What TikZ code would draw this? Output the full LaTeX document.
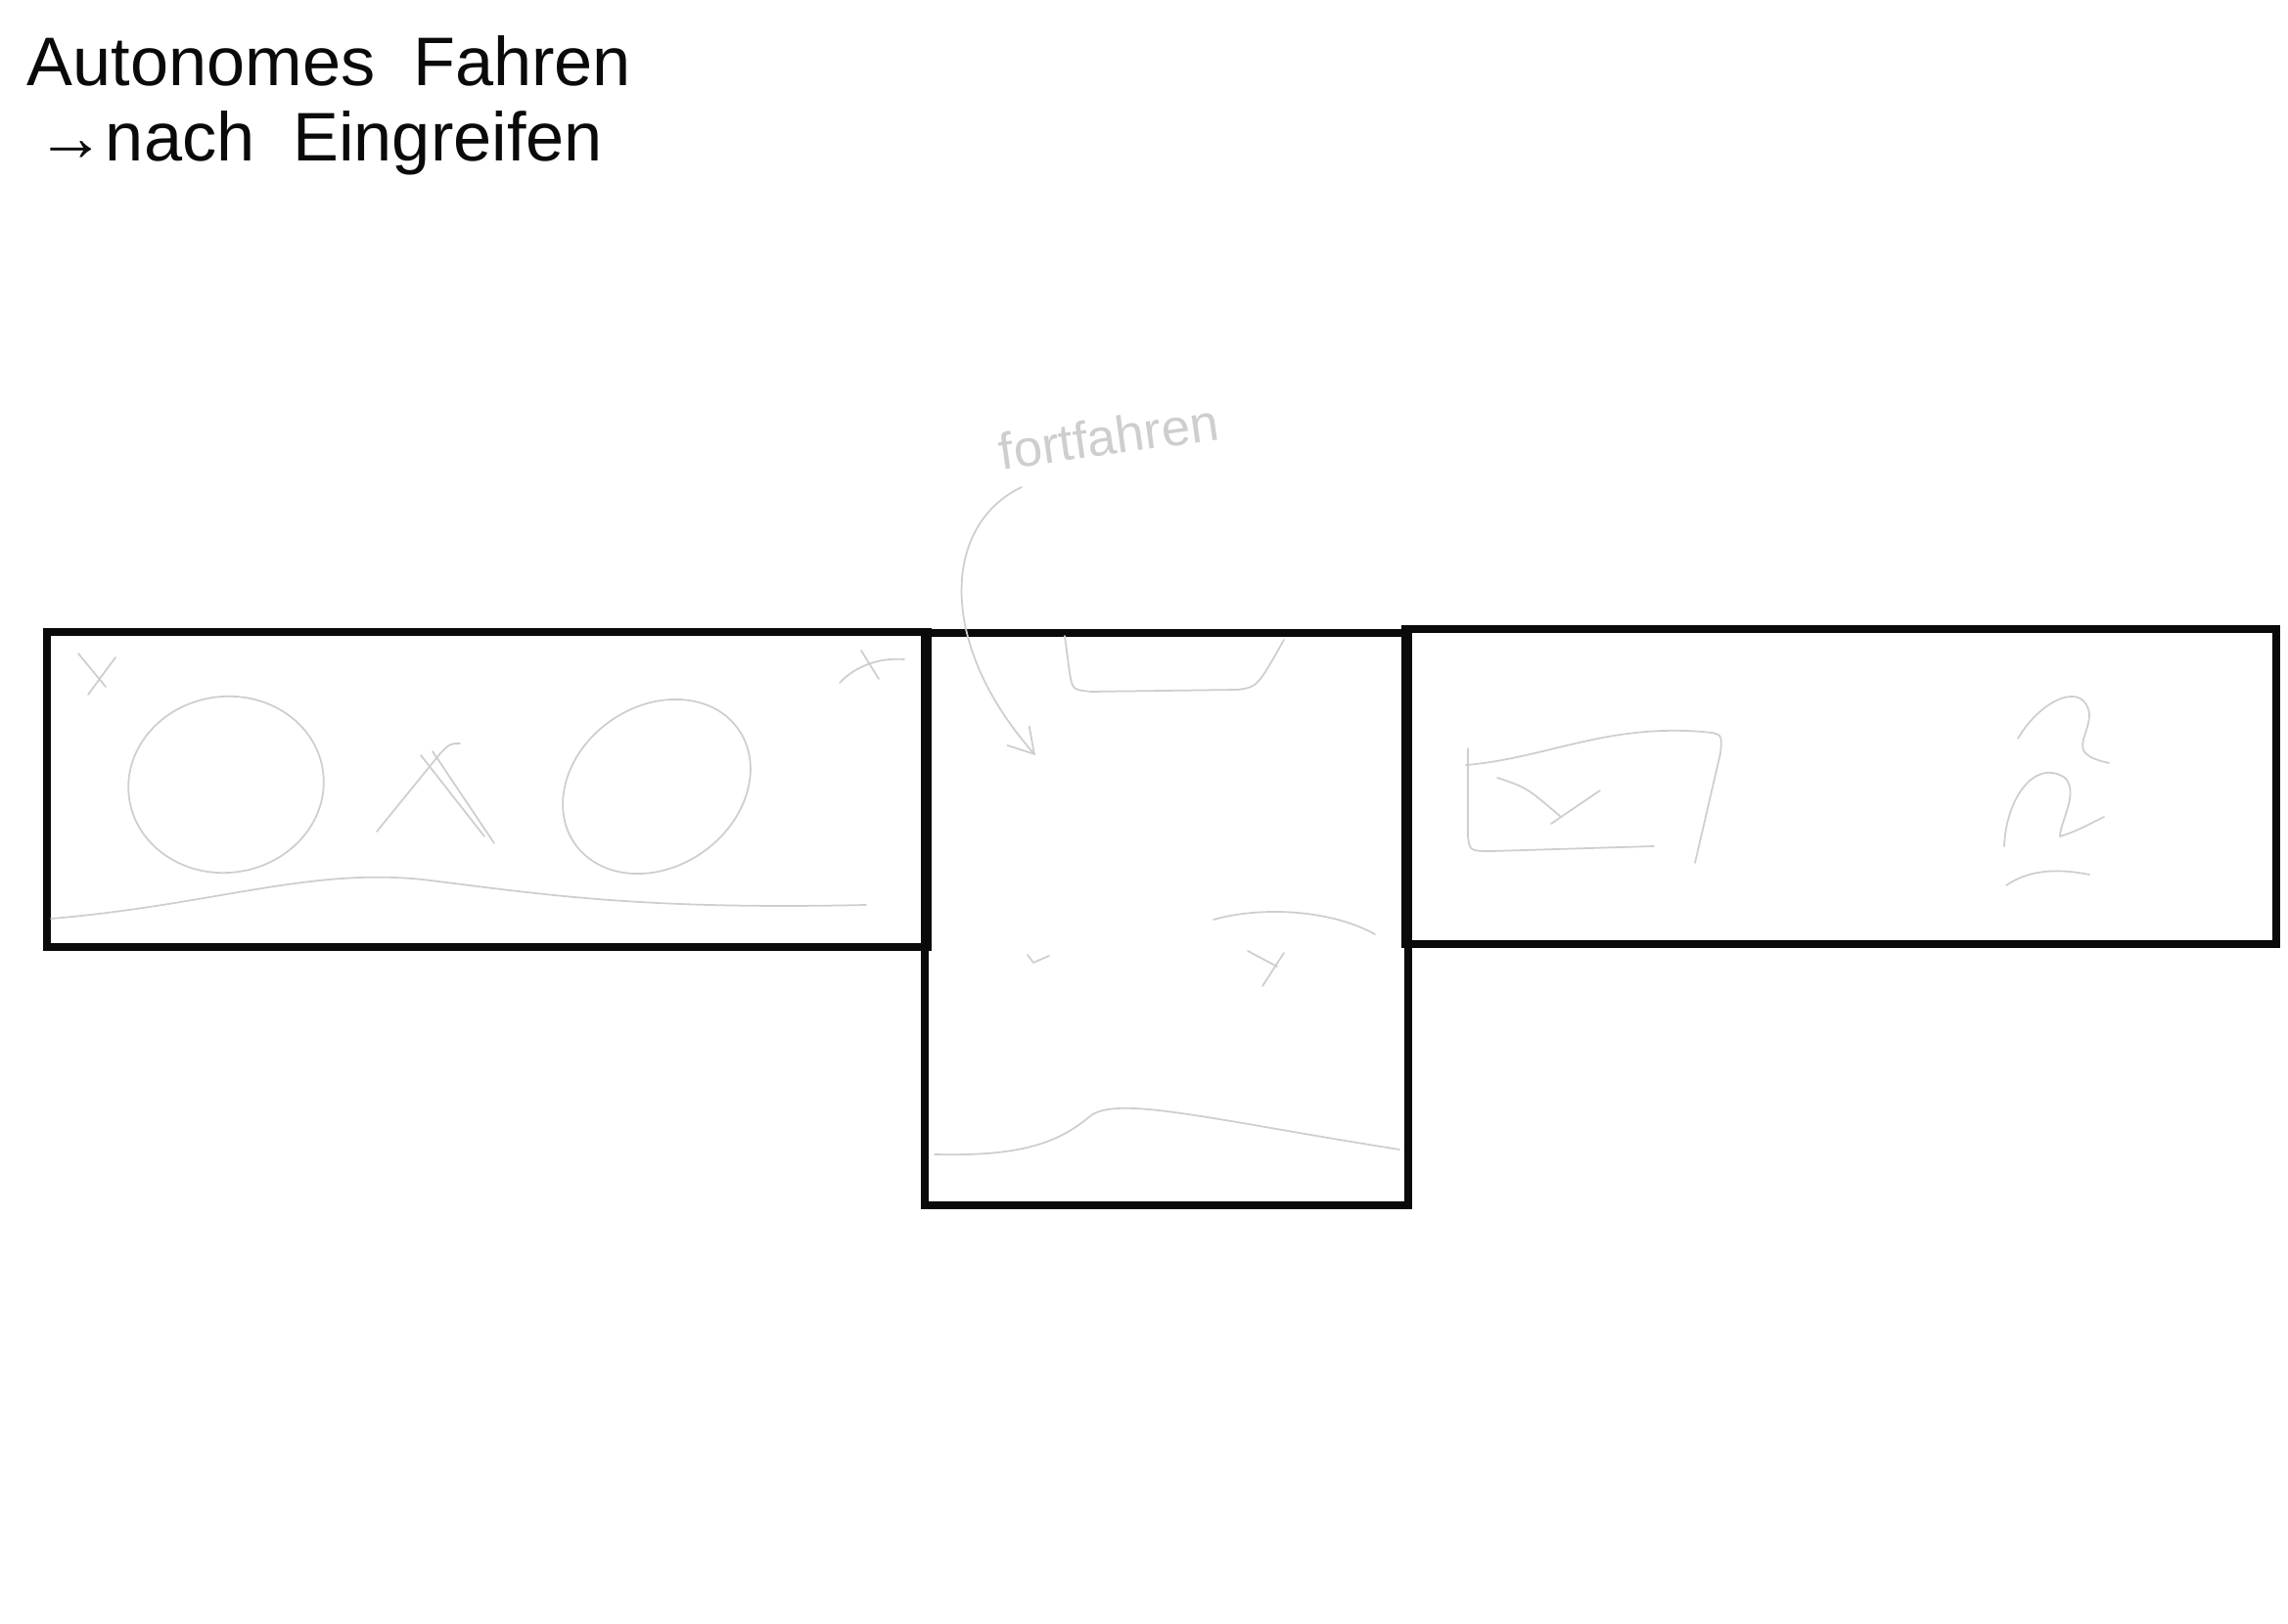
\documentclass[tikz,border=0pt]{standalone}
\usepackage{fontspec}
\setmainfont{Liberation Sans}
\usepackage{tikz}
\usetikzlibrary{arrows.meta,positioning,calc}
\usepackage{xcolor}
\definecolor{ink}{RGB}{10,10,10}
\definecolor{pencil}{RGB}{206,206,206}
\tikzset{
  screen/.style={draw=ink,line width=2.3pt,minimum width=#1,inner sep=0pt},
  sketch/.style={draw=pencil,line width=0.5pt,line cap=round,line join=round},
  title/.style={anchor=north west,align=left,font=\fontsize{20}{22}\selectfont,text=ink,inner sep=0pt},
}

\begin{document}
\begin{tikzpicture}[
        arr/.style={-{Straight Barb[length=2.5mm,width=3mm]},sketch},
      ]
        \useasboundingbox (0,0) rectangle (23.38,16.60);

        % title
        \node[title] (ttl) at (0.27,16.24) {Autonomes\ \ Fahren\\\hspace*{1mm}→nach\ \ Eingreifen};

        % three screens
        \node[screen=9.00cm,minimum height=3.22cm] (left) at (4.98,8.53) {};
        \node[screen=4.94cm,minimum height=5.85cm] (mid) at (11.92,7.205) {};
        \node[screen=8.90cm,minimum height=3.22cm] (right) at (18.81,8.56) {};

        % faint pencil marks, left screen
        \draw[sketch] (0.80,9.92) -- (1.08,9.58) (1.18,9.88) -- (0.90,9.50);
        \draw[sketch] (8.58,9.62) .. controls (8.75,9.80) and (9.00,9.88) .. (9.24,9.86);
        \draw[sketch] (8.80,9.95) -- (8.98,9.66);
        \draw[sketch,rotate around={8:(2.31,8.58)}] (2.31,8.58) ellipse [x radius=1.00cm,y radius=0.90cm];
        \draw[sketch,rotate around={35:(6.71,8.56)}] (6.71,8.56) ellipse [x radius=1.02cm,y radius=0.82cm];
        \draw[sketch] (3.85,8.10) -- (4.50,8.90) .. controls (4.60,9.00) .. (4.70,9.00);
        \draw[sketch] (4.30,8.88) -- (4.95,8.05) (4.42,8.92) -- (5.05,7.98);
        \draw[sketch] (0.52,7.21) .. controls (2.20,7.35) and (3.20,7.75) .. (4.40,7.60)
          .. controls (5.60,7.45) and (6.60,7.30) .. (8.85,7.35);

        % faint pencil marks, middle screen
        \node[text=pencil,font=\fontsize{15}{18}\selectfont,rotate=8] (fort) at (11.33,12.14) {fortfahren};
        \coordinate (fortend) at (10.58,8.88);
        \draw[arr] (10.44,11.62) .. controls (9.65,11.25) and (9.55,10.05) .. (fortend);
        \draw[sketch] (10.88,10.10) -- (10.93,9.72) .. controls (10.96,9.55) .. (11.15,9.53)
          -- (12.65,9.55) .. controls (12.85,9.58) .. (13.12,10.06);
        \draw[sketch] (10.50,6.84) -- (10.56,6.76) -- (10.72,6.83);
        \draw[sketch] (12.75,6.88) -- (13.05,6.72) (13.12,6.86) -- (12.90,6.52);
        \draw[sketch] (12.40,7.20) .. controls (12.90,7.34) and (13.60,7.30) .. (14.05,7.05);
        \draw[sketch] (9.55,4.80) .. controls (10.40,4.78) and (10.80,4.90) .. (11.15,5.20)
          .. controls (11.45,5.40) and (12.40,5.15) .. (14.30,4.85);

        % faint pencil marks, right screen
        \draw[sketch] (15.00,8.95) -- (15.00,8.05) .. controls (15.02,7.90) .. (15.25,7.90) -- (16.90,7.95);
        \draw[sketch] (14.98,8.78) .. controls (15.80,8.85) and (16.40,9.20) .. (17.40,9.12)
          .. controls (17.60,9.10) .. (17.58,8.90) -- (17.32,7.78);
        \draw[sketch] (15.30,8.65) .. controls (15.60,8.55) .. (15.95,8.25) (15.85,8.18) -- (16.35,8.52);
        \draw[sketch] (20.62,9.05) .. controls (20.85,9.45) and (21.30,9.65) .. (21.35,9.30)
          .. controls (21.35,9.05) and (21.10,8.90) .. (21.55,8.80);
        \draw[sketch] (20.48,7.95) .. controls (20.50,8.45) and (20.80,8.85) .. (21.10,8.65)
          .. controls (21.25,8.50) and (21.05,8.20) .. (21.05,8.05) .. controls (21.20,8.10) .. (21.50,8.25);
        \draw[sketch] (20.50,7.55) .. controls (20.75,7.72) and (21.05,7.72) .. (21.35,7.66);
      \end{tikzpicture}
\end{document}
